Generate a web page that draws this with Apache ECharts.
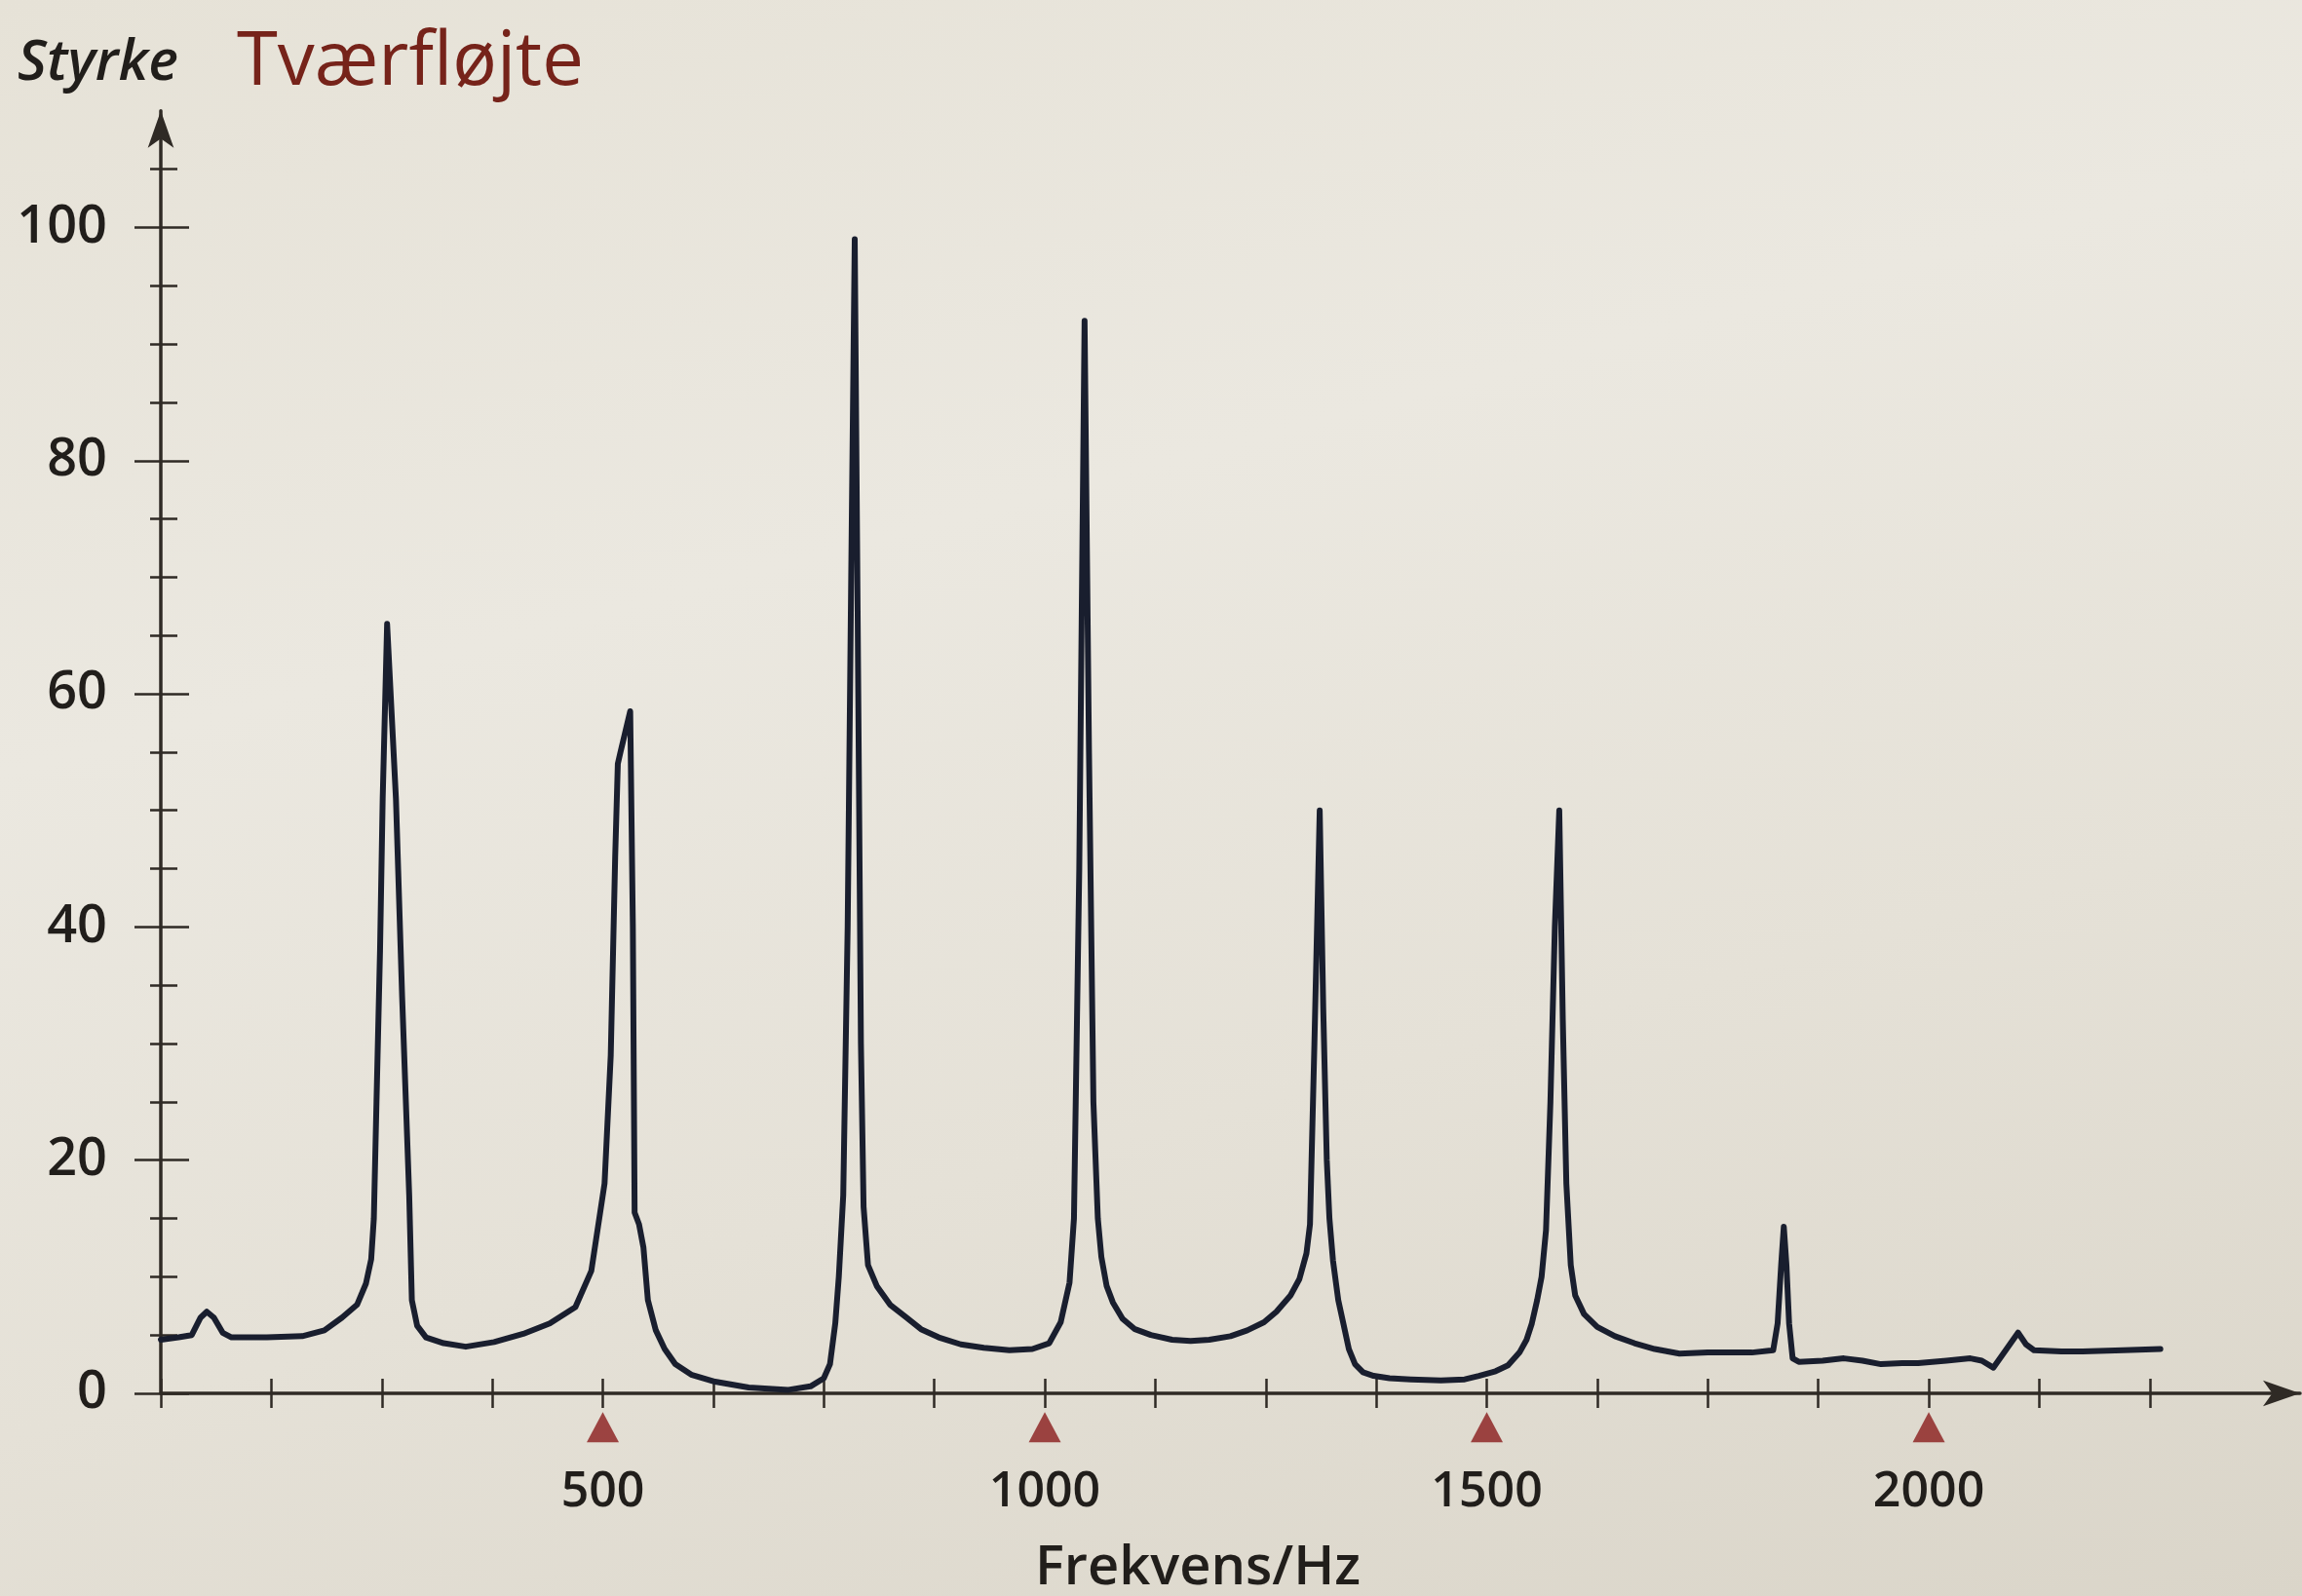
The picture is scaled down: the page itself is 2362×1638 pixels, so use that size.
<!DOCTYPE html>
<html>
<head>
<meta charset="utf-8">
<script src="https://cdn.jsdelivr.net/npm/echarts@6/dist/echarts.min.js"></script>
<style>
  html, body { margin: 0; padding: 0; }
  #chart {
    width: 2362px; height: 1638px;
    background: linear-gradient(165deg, #e6e2d7 0%, #ebe8e0 35%, #e5e1d7 65%, #dad5c9 100%);
  }
</style>
</head>
<body>
<div id="chart"></div>
<script>
// ---- Data (frequency in Hz, strength) ----
const freqs = [
  0, 20, 35, 45, 52, 60, 70, 80, 120, 160, 185, 205, 222, 232, 238, 241, 244, 248, 251, 256,
  266, 273, 281, 284, 290, 300, 320, 345, 377, 410, 440, 469, 487, 502, 509, 514, 517, 520, 531, 534,
  536, 541, 546, 551, 560, 570, 582, 600, 627, 665, 710, 735, 750, 757, 763, 767, 772, 777, 781, 785,
  789, 792, 795, 800, 810, 825, 842, 860, 880, 905, 931, 960, 986, 1005, 1018, 1028, 1033, 1039, 1045, 1050,
  1055, 1060, 1064, 1070, 1077, 1088, 1102, 1120, 1144, 1165, 1186, 1210, 1229, 1248, 1262, 1278, 1288, 1296, 1300, 1305,
  1311, 1315, 1319, 1322, 1326, 1332, 1338, 1344, 1351, 1360, 1372, 1390, 1414, 1448, 1475, 1491, 1510, 1524, 1537, 1545,
  1551, 1557, 1562, 1567, 1572, 1577, 1582, 1586, 1590, 1595, 1600, 1610, 1625, 1645, 1667, 1690, 1718, 1750, 1777, 1800,
  1824, 1829, 1833, 1836, 1839, 1842, 1846, 1853, 1880, 1904, 1925, 1946, 1970, 1988, 2020, 2047, 2060, 2073, 2088, 2101,
  2110, 2119, 2150, 2174, 2220, 2262
];
const strength = [
  4.6, 4.8, 5.0, 6.5, 7.0, 6.5, 5.2, 4.8, 4.8, 4.9, 5.4, 6.5, 7.6, 9.4, 11.5, 15, 25, 38, 51, 66,
  51, 34, 17, 8, 5.8, 4.8, 4.3, 4.0, 4.4, 5.1, 6.0, 7.4, 10.5, 18, 29, 46, 54, 55, 58.5, 40,
  15.5, 14.5, 12.5, 8, 5.4, 3.8, 2.5, 1.6, 1.0, 0.5, 0.3, 0.6, 1.3, 2.5, 6, 10, 17, 40, 70, 99,
  60, 30, 16, 11, 9.2, 7.6, 6.6, 5.5, 4.8, 4.2, 3.9, 3.7, 3.8, 4.3, 6.1, 9.5, 15, 45, 92, 55,
  25, 15, 11.7, 9.2, 7.8, 6.4, 5.5, 5.0, 4.6, 4.5, 4.6, 4.9, 5.4, 6.1, 7.0, 8.4, 9.8, 12, 14.5, 30,
  50, 33, 20, 15, 11.4, 8, 5.9, 3.8, 2.5, 1.8, 1.5, 1.3, 1.2, 1.1, 1.2, 1.5, 1.9, 2.4, 3.5, 4.6,
  6, 8, 10, 14, 25, 40, 50, 32, 18, 11, 8.4, 6.8, 5.7, 4.9, 4.3, 3.8, 3.4, 3.5, 3.5, 3.5,
  3.7, 6, 11, 14.3, 11, 6, 3.0, 2.7, 2.8, 3.0, 2.8, 2.5, 2.6, 2.6, 2.8, 3.0, 2.8, 2.2, 3.8, 5.2,
  4.2, 3.7, 3.6, 3.6, 3.7, 3.8
];
// tick / label values
const xTickValues = [0, 125, 250, 375, 500, 625, 750, 875, 1000, 1125, 1250, 1375, 1500, 1625, 1750, 1875, 2000, 2125, 2250];
const xLabelValues = [500, 1000, 1500, 2000];
const markerFreqs = [500, 1000, 1500, 2000];
const yMajorValues = [0, 20, 40, 60, 80, 100];
const yMinorValues = [5, 10, 15, 25, 30, 35, 45, 50, 55, 65, 70, 75, 85, 90, 95, 105];

const titleText = 'Tværfløjte';
const yName = 'Styrke';
const xName = 'Frekvens/Hz';

// ---- Chart ----
const FONT = '"Open Sans", "Noto Sans", sans-serif';
const AXIS_COLOR = '#2f2a25';
const TEXT_COLOR = '#211e1b';
const X_MIN = 0, X_MAX = 2420, Y_MIN = 0, Y_MAX = 110;
const MARKER_Y = -2.9;

const chart = echarts.init(document.getElementById('chart'), null, { width: 2362, height: 1638 });

function xAxisBase(extra) {
  return Object.assign({
    type: 'value', min: X_MIN, max: X_MAX, position: 'bottom',
    splitLine: { show: false }
  }, extra);
}
function yAxisBase(extra) {
  return Object.assign({
    type: 'value', min: Y_MIN, max: Y_MAX, position: 'left',
    splitLine: { show: false }
  }, extra);
}
const tickStyle = { color: AXIS_COLOR, width: 2.5 };
const plain = v => String(v);

const option = {
  backgroundColor: 'transparent',
  animation: false,
  grid: { left: 165, right: 2, top: 113.8, bottom: 208, containLabel: false },
  xAxis: [
    xAxisBase({
      axisLine: { show: true, onZero: false, symbol: ['none', 'arrow'], symbolSize: [20, 38],
        lineStyle: { color: AXIS_COLOR, width: 3.5 } },
      axisTick: { show: true, customValues: xTickValues, length: 15, lineStyle: tickStyle },
      axisLabel: { show: true, customValues: xLabelValues, formatter: plain, margin: 77,
        fontSize: 50, lineHeight: 50, fontWeight: 600, fontFamily: FONT, color: TEXT_COLOR }
    }),
    xAxisBase({
      axisLine: { show: false, onZero: false },
      axisTick: { show: true, inside: true, customValues: xTickValues, length: 15, lineStyle: tickStyle },
      axisLabel: { show: false }
    })
  ],
  yAxis: [
    yAxisBase({
      axisLine: { show: true, onZero: false, symbol: ['none', 'arrow'], symbolSize: [20, 38],
        lineStyle: { color: AXIS_COLOR, width: 3.5 } },
      axisTick: { show: true, customValues: yMajorValues, length: 27, lineStyle: tickStyle },
      axisLabel: { show: true, customValues: yMajorValues, formatter: plain, margin: 55,
        fontSize: 54, fontWeight: 600, fontFamily: FONT, color: TEXT_COLOR }
    }),
    yAxisBase({
      axisLine: { show: false, onZero: false },
      axisTick: { show: true, inside: true, customValues: yMajorValues, length: 29, lineStyle: tickStyle },
      axisLabel: { show: false }
    }),
    yAxisBase({
      axisLine: { show: false, onZero: false },
      axisTick: { show: true, customValues: yMinorValues, length: 11, lineStyle: tickStyle },
      axisLabel: { show: false }
    }),
    yAxisBase({
      axisLine: { show: false, onZero: false },
      axisTick: { show: true, inside: true, customValues: yMinorValues, length: 17, lineStyle: tickStyle },
      axisLabel: { show: false }
    })
  ],
  series: [
    {
      type: 'line',
      xAxisIndex: 0, yAxisIndex: 0,
      data: freqs.map((f, i) => [f, strength[i]]),
      showSymbol: false,
      smooth: false,
      clip: false,
      lineStyle: { color: '#191e2e', width: 6, join: 'round', cap: 'round' },
      silent: true
    },
    {
      type: 'scatter',
      xAxisIndex: 0, yAxisIndex: 0,
      data: markerFreqs.map(f => [f, MARKER_Y]),
      symbol: 'triangle',
      symbolSize: [33, 31],
      clip: false,
      itemStyle: { color: '#8a1b1b' },
      silent: true
    }
  ],
  graphic: [
    { type: 'text', left: 18, top: 36,
      style: { text: yName, font: 'italic 600 58px ' + FONT, fill: TEXT_COLOR } },
    { type: 'text', left: 243, top: 27,
      style: { text: titleText, font: '500 76px ' + FONT, fill: '#76231a' } },
    { type: 'text', left: 1062, top: 1582,
      style: { text: xName, font: '600 56px ' + FONT, fill: TEXT_COLOR } }
  ]
};
chart.setOption(option);
</script>
</body>
</html>
